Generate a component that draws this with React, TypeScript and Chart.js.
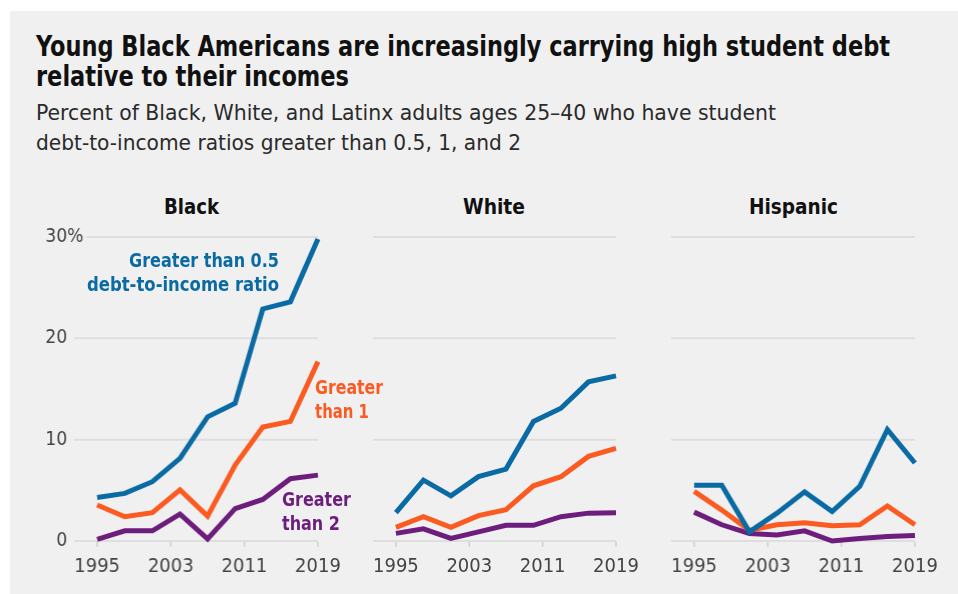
import React, { useEffect, useLayoutEffect, useRef } from "react";
import { Chart, registerables } from "chart.js";

Chart.register(...registerables);

// ---------- data ----------
const years = [1995, 1998, 2001, 2004, 2007, 2010, 2013, 2016, 2019];
const xTickYears = [1995, 2003, 2011, 2019];
const yTickValues = [0, 10, 20, 30];
const panelNames = ["Black", "White", "Hispanic"];
const seriesNames = ["Greater than 0.5", "Greater than 1", "Greater than 2"];

const blackOver05 = [4.3, 4.7, 5.85, 8.15, 12.25, 13.6, 22.9, 23.6, 29.8];
const blackOver1 = [3.55, 2.4, 2.8, 5.05, 2.45, 7.5, 11.25, 11.8, 17.7];
const blackOver2 = [0.15, 1.0, 1.0, 2.65, 0.2, 3.2, 4.1, 6.15, 6.5];

const whiteOver05 = [2.8, 6.0, 4.45, 6.35, 7.1, 11.8, 13.1, 15.7, 16.3];
const whiteOver1 = [1.35, 2.4, 1.35, 2.5, 3.1, 5.45, 6.35, 8.35, 9.15];
const whiteOver2 = [0.75, 1.2, 0.25, 0.9, 1.55, 1.55, 2.4, 2.75, 2.8];

const hispOver05 = [5.5, 5.5, 0.9, 2.75, 4.85, 2.9, 5.4, 11.0, 7.7];
const hispOver1 = [4.9, 3.05, 1.05, 1.6, 1.8, 1.5, 1.6, 3.45, 1.6];
const hispOver2 = [2.85, 1.6, 0.75, 0.6, 1.0, 0.0, 0.25, 0.45, 0.55];

const panelSeries = [
  [blackOver05, blackOver1, blackOver2],
  [whiteOver05, whiteOver1, whiteOver2],
  [hispOver05, hispOver1, hispOver2],
];

// ---------- style ----------
const FONT = '"Liberation Sans Narrow", "DejaVu Sans Condensed", "Liberation Sans", sans-serif';
const BLUE = "#0a6aa3";
const ORANGE = "#fb5a20";
const PURPLE = "#6d1d7b";
const COLORS = [BLUE, ORANGE, PURPLE];
const BG = "#f0f0f0";
const GRID = "#dedede";
const TICK_TEXT = "#444444";

const X_MIN = 1992.5;
const Y_MAX = 30;

// plot area left edges (page px)
const PLOT_LEFTS = [74, 372.5, 671];
const PLOT_W = 243.5;
const AXIS_W = 54;
const PAD_R = 25;
const CANVAS_TOP = 200;
const PAD_T = 37;
const X_AXIS_H = 39;
const CANVAS_H = PAD_T + 304 + X_AXIS_H;

function axesPlugin(showY: boolean) {
  return {
    id: "customAxes",
    beforeDatasetsDraw(chart: any) {
      const { ctx, chartArea } = chart;
      const y = chart.scales.y;
      const x = chart.scales.x;
      ctx.save();
      // horizontal grid + y labels
      ctx.font = `19px ${FONT}`;
      ctx.textBaseline = "middle";
      y.ticks.forEach((t: any) => {
        const py = y.getPixelForValue(t.value);
        let x0 = chartArea.left;
        if (showY) {
          const numRight = chartArea.left - 7;
          ctx.fillStyle = TICK_TEXT;
          ctx.textAlign = "right";
          ctx.fillText(String(t.value), numRight, py);
          if (t.value === Y_MAX) {
            ctx.textAlign = "left";
            ctx.fillText("%", numRight, py);
            x0 = numRight + ctx.measureText("%").width + 3;
          }
        }
        ctx.strokeStyle = GRID;
        ctx.lineWidth = 2;
        ctx.beginPath();
        ctx.moveTo(x0, py);
        ctx.lineTo(chartArea.right, py);
        ctx.stroke();
      });
      // x tick marks + labels
      ctx.font = `20px ${FONT}`;
      ctx.textAlign = "center";
      ctx.textBaseline = "alphabetic";
      x.ticks.forEach((t: any) => {
        const px = x.getPixelForValue(t.value);
        ctx.strokeStyle = "#cfcfcf";
        ctx.lineWidth = 1.5;
        ctx.beginPath();
        ctx.moveTo(px, chartArea.bottom + 1);
        ctx.lineTo(px, chartArea.bottom + 6);
        ctx.stroke();
        ctx.fillStyle = TICK_TEXT;
        ctx.fillText(String(t.value), px, chartArea.bottom + 31);
      });
      ctx.restore();
    },
  };
}

function Panel({ index }: { index: number }) {
  const ref = useRef<HTMLCanvasElement>(null);
  const showY = index === 0;
  const left = PLOT_LEFTS[index] - AXIS_W;
  const width = AXIS_W + PLOT_W + PAD_R;
  useEffect(() => {
    if (!ref.current) return;
    const series = panelSeries[index];
    const chart = new Chart(ref.current, {
      type: "line",
      data: {
        datasets: series.map((s, i) => ({
          label: seriesNames[i],
          data: years.map((yr, j) => ({ x: yr, y: s[j] })),
          borderColor: COLORS[i],
          backgroundColor: COLORS[i],
          borderWidth: 5,
          pointRadius: 0,
          tension: 0,
          fill: false,
          clip: false,
          borderJoinStyle: "miter",
          borderCapStyle: "butt",
        })),
      },
      options: {
        animation: false,
        responsive: false,
        maintainAspectRatio: false,
        devicePixelRatio: 1,
        layout: { padding: { top: PAD_T, right: PAD_R, left: 0, bottom: 0 } },
        plugins: {
          legend: { display: false },
          tooltip: { enabled: false },
          title: { display: false },
        },
        scales: {
          x: {
            type: "linear",
            min: X_MIN,
            max: 2019,
            afterBuildTicks: (s: any) => {
              s.ticks = xTickYears.map((v) => ({ value: v }));
            },
            afterFit: (s: any) => {
              s.height = X_AXIS_H;
            },
            grid: { display: false },
            border: { display: false },
            ticks: { display: false },
          },
          y: {
            min: 0,
            max: Y_MAX,
            afterBuildTicks: (s: any) => {
              s.ticks = yTickValues.map((v) => ({ value: v }));
            },
            afterFit: (s: any) => {
              s.width = AXIS_W;
            },
            grid: { display: false },
            border: { display: false },
            ticks: { display: false },
          },
        },
      } as any,
      plugins: [axesPlugin(showY)],
    });
    return () => chart.destroy();
  }, [index]);
  return (
    <canvas
      ref={ref}
      width={width}
      height={CANVAS_H}
      style={{ position: "absolute", left, top: CANVAS_TOP, width, height: CANVAS_H }}
    />
  );
}

type FitProps = {
  text: string;
  left: number;
  top: number;
  width: number;
  size: number;
  weight?: number | string;
  color?: string;
};

function FitText({ text, left, top, width, size, weight = "normal", color = "#111" }: FitProps) {
  const ref = useRef<HTMLSpanElement>(null);
  useLayoutEffect(() => {
    const fit = () => {
      const el = ref.current;
      if (!el) return;
      el.style.transform = "none";
      const w = el.getBoundingClientRect().width;
      if (w > 0) el.style.transform = `scaleX(${width / w})`;
    };
    fit();
    if ((document as any).fonts && (document as any).fonts.ready) {
      (document as any).fonts.ready.then(fit);
    }
  }, [text, width, size]);
  return (
    <span
      ref={ref}
      style={{
        position: "absolute",
        left,
        top,
        fontFamily: FONT,
        fontSize: size,
        fontWeight: weight as any,
        color,
        lineHeight: 1,
        whiteSpace: "nowrap",
        transformOrigin: "left top",
        display: "inline-block",
      }}
    >
      {text}
    </span>
  );
}

export default function App() {
  const panelTitleCenters = [191.5, 494, 793];
  const panelTitleWidths = [55, 62, 89];
  return (
    <div style={{ position: "absolute", left: 0, top: 0, width: 958, height: 594, background: "#ffffff", overflow: "hidden" }}>
      <div style={{ position: "absolute", left: 10, top: 11, width: 948, height: 583, background: BG }} />
      <FitText text="Young Black Americans are increasingly carrying high student debt" left={36} top={33} width={854} size={28} weight="bold" />
      <FitText text="relative to their incomes" left={36} top={63} width={313} size={28} weight="bold" />
      <FitText text="Percent of Black, White, and Latinx adults ages 25–40 who have student" left={36} top={102} width={740} size={22} color="#2a2a2a" />
      <FitText text="debt-to-income ratios greater than 0.5, 1, and 2" left={36} top={132} width={485} size={22} color="#2a2a2a" />
      {panelNames.map((n, i) => (
        <FitText key={n} text={n} left={panelTitleCenters[i] - panelTitleWidths[i] / 2} top={197} width={panelTitleWidths[i]} size={21} weight="bold" />
      ))}
      {panelNames.map((n, i) => (
        <Panel key={n + "-chart"} index={i} />
      ))}
      <FitText text="Greater than 0.5" left={129} top={250} width={150} size={20} weight="bold" color={BLUE} />
      <FitText text="debt-to-income ratio" left={87} top={274} width={192} size={20} weight="bold" color={BLUE} />
      <FitText text="Greater" left={315} top={377} width={68} size={20} weight="bold" color={ORANGE} />
      <FitText text="than 1" left={315} top={401} width={54} size={20} weight="bold" color={ORANGE} />
      <FitText text="Greater" left={282} top={489} width={69} size={20} weight="bold" color={PURPLE} />
      <FitText text="than 2" left={282} top={513} width={58} size={20} weight="bold" color={PURPLE} />
    </div>
  );
}
